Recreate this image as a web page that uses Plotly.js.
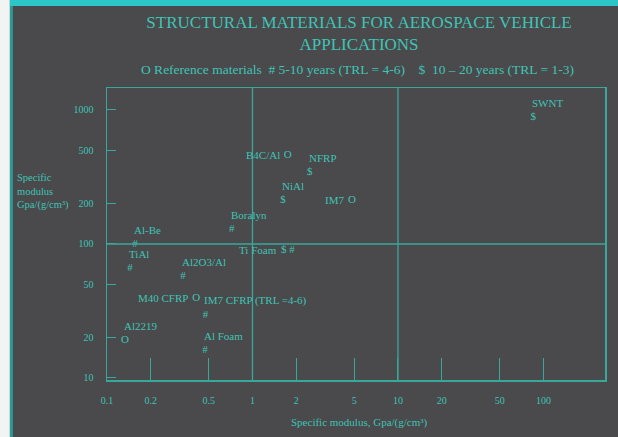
<!DOCTYPE html>
<html>
<head>
<meta charset="utf-8">
<script src="https://cdn.plot.ly/plotly-3.0.1.min.js"></script>
<style>html,body{margin:0;padding:0;background:#4a494b;}#chart{width:618px;height:437px;}</style>
</head>
<body>
<div id="chart"></div>
<script>
// Stacked entries: label above, symbol below
var stackNames = ['SWNT', 'NFRP', 'NiAl', 'Boralyn', 'Al-Be', 'TiAl', 'Al2O3/Al', 'IM7 CFRP (TRL =4-6)', 'Al2219', 'Al Foam'];
var stackSymbols = ['$', '$', '$', '#', '#', '#', '#', '#', 'O', '#'];
var stackX = [85, 2.48, 1.62, 0.72, 0.156, 0.144, 0.333, 0.475, 0.133, 0.472];
var stackY = [890, 345, 213, 129, 100, 66, 57.7, 29.5, 19.2, 16.2];

// Inline entries: label to the left of the symbol
var inlineNames = ['IM7', 'B4C/Al', 'Ti Foam', 'M40 CFRP'];
var inlineSymbols = ['O', 'O', '$ #', 'O'];
var inlineX = [4.83, 1.75, 1.75, 0.41];
var inlineY = [213, 461, 90, 39.5];

var xTickVals = [0.1, 0.2, 0.5, 1, 2, 5, 10, 20, 50, 100];
var xTickText = ['0.1', '0.2', '0.5', '1', '2', '5', '10', '20', '50', '100'];
var yTickVals = [10, 20, 50, 100, 200, 500, 1000];
var yTickText = ['10', '20', '50', '100', '200', '500', '1000'];
var refLinesX = [1, 10];
var refLineY = 100;

var TXT = '#3fc4b6';
var LINE = '#38a89a';
var BG = '#4a494b';
var FONT = 'Liberation Serif, Times New Roman, serif';

var traces = [
  {x: stackX, y: stackY, text: stackSymbols, mode: 'text', textposition: 'middle center',
   textfont: {family: FONT, size: 11, color: TXT}, hoverinfo: 'skip', showlegend: false},
  {x: inlineX, y: inlineY, text: inlineSymbols, mode: 'text', textposition: 'middle center',
   textfont: {family: FONT, size: 11, color: TXT}, hoverinfo: 'skip', showlegend: false}
];

var annotations = [];
for (var i = 0; i < stackNames.length; i++) {
  annotations.push({x: Math.log10(stackX[i]), y: Math.log10(stackY[i]), xref: 'x', yref: 'y',
    text: stackNames[i], showarrow: false, xanchor: 'left', yanchor: 'bottom', xshift: -3, yshift: 6,
    font: {family: FONT, size: 11, color: TXT}});
}
for (var j = 0; j < inlineNames.length; j++) {
  annotations.push({x: Math.log10(inlineX[j]), y: Math.log10(inlineY[j]), xref: 'x', yref: 'y',
    text: inlineNames[j], showarrow: false, xanchor: 'right', yanchor: 'middle',
    xshift: -(inlineSymbols[j].length > 1 ? 9 : 6),
    font: {family: FONT, size: 11, color: TXT}});
}
annotations.push({xref: 'paper', yref: 'paper', x: 0.504, y: 1.062, xanchor: 'center', yanchor: 'middle',
  showarrow: false, text: 'O Reference materials  # 5-10 years (TRL = 4-6)    $  10 \u2013 20 years (TRL = 1-3)',
  font: {family: FONT, size: 13.5, color: TXT}});
annotations.push({xref: 'paper', yref: 'paper', x: -0.185, y: 0.644, xanchor: 'left', yanchor: 'middle',
  showarrow: false, align: 'left', text: 'Specific<br>modulus<br>Gpa/(g/cm\u00b3)',
  font: {family: FONT, size: 10.5, color: TXT}});
annotations.push({xref: 'paper', yref: 'paper', x: 0.508, y: -0.147, xanchor: 'center', yanchor: 'middle',
  showarrow: false, text: 'Specific modulus, Gpa/(g/cm\u00b3)',
  font: {family: FONT, size: 11, color: TXT}});

var shapes = [];
refLinesX.forEach(function (v) {
  shapes.push({type: 'line', xref: 'x', yref: 'paper', x0: v, x1: v, y0: 0, y1: 1,
    line: {color: LINE, width: 1.3}});
});
shapes.push({type: 'line', xref: 'paper', yref: 'y', x0: 0, x1: 1, y0: refLineY, y1: refLineY,
  line: {color: LINE, width: 1.3}});
// photo edges
shapes.push({type: 'rect', xref: 'paper', yref: 'paper', x0: -0.25, x1: -0.195, y0: -0.3, y1: 1.35,
  fillcolor: '#f2f4f4', line: {width: 0}, layer: 'below'});
shapes.push({type: 'rect', xref: 'paper', yref: 'paper', x0: -0.195, x1: -0.189, y0: -0.3, y1: 1.35,
  fillcolor: '#2a9c98', line: {width: 0}, layer: 'below'});
shapes.push({type: 'rect', xref: 'paper', yref: 'paper', x0: -0.195, x1: 1.05, y0: 1.281, y1: 1.35,
  fillcolor: '#2cc6c8', line: {width: 0}, layer: 'below'});

var layout = {
  width: 618, height: 437,
  margin: {l: 107, r: 13, t: 88, b: 57},
  paper_bgcolor: BG, plot_bgcolor: BG,
  font: {family: FONT, color: TXT},
  title: {text: 'STRUCTURAL MATERIALS FOR AEROSPACE VEHICLE<br>APPLICATIONS',
    x: 0.581, xanchor: 'center', y: 0.937, yanchor: 'top',
    font: {family: FONT, size: 17, color: TXT}},
  xaxis: {type: 'log', range: [-1, 2.423], tickvals: xTickVals, ticktext: xTickText,
    ticks: 'inside', ticklen: 22, tickcolor: LINE, tickwidth: 1,
    showline: true, mirror: true, linecolor: LINE, linewidth: 1.5,
    showgrid: false, zeroline: false, ticklabelstandoff: 10,
    tickfont: {family: FONT, size: 10, color: TXT}},
  yaxis: {type: 'log', range: [0.985, 3.164], tickvals: yTickVals, ticktext: yTickText,
    ticks: 'inside', ticklen: 9, tickcolor: LINE, tickwidth: 1,
    showline: true, mirror: true, linecolor: LINE, linewidth: 1.5,
    showgrid: false, zeroline: false, ticklabelstandoff: 10,
    tickfont: {family: FONT, size: 10, color: TXT}},
  annotations: annotations,
  shapes: shapes
};

Plotly.newPlot('chart', traces, layout, {displayModeBar: false, staticPlot: true});
</script>
</body>
</html>
